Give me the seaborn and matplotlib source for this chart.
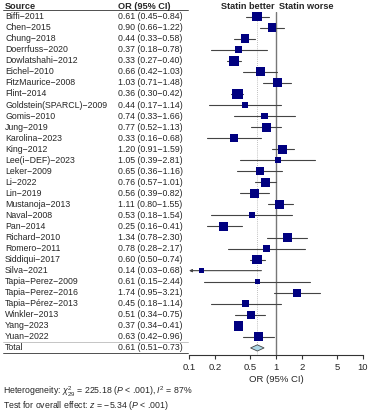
import numpy as np
import pandas as pd
import matplotlib
import matplotlib.pyplot as plt
import matplotlib.transforms as mtransforms
from matplotlib.lines import Line2D
from matplotlib.patches import Polygon
import seaborn as sns

# %%
# study data
sources = [
    "Biffi-2011", "Chen-2015", "Chung-2018", "Doerrfuss-2020", "Dowlatshahi-2012",
    "Eichel-2010", "FitzMaurice-2008", "Flint-2014", "Goldstein(SPARCL)-2009",
    "Gomis-2010", "Jung-2019", "Karolina-2023", "King-2012", "Lee(i-DEF)-2023",
    "Leker-2009", "Li-2022", "Lin-2019", "Mustanoja-2013", "Naval-2008", "Pan-2014",
    "Richard-2010", "Romero-2011", "Siddiqui-2017", "Silva-2021", "Tapia-Perez-2009",
    "Tapia-Perez-2016", "Tapia-Pérez-2013", "Winkler-2013", "Yang-2023", "Yuan-2022",
]
or_vals = [0.61, 0.90, 0.44, 0.37, 0.33, 0.66, 1.03, 0.36, 0.44, 0.74, 0.77, 0.33,
           1.20, 1.05, 0.65, 0.76, 0.56, 1.11, 0.53, 0.25, 1.34, 0.78, 0.60, 0.14,
           0.61, 1.74, 0.45, 0.51, 0.37, 0.63]
ci_low = [0.45, 0.66, 0.33, 0.18, 0.27, 0.42, 0.71, 0.30, 0.17, 0.33, 0.52, 0.16,
          0.91, 0.39, 0.36, 0.57, 0.39, 0.80, 0.18, 0.16, 0.78, 0.28, 0.50, 0.03,
          0.15, 0.95, 0.18, 0.34, 0.34, 0.42]
ci_high = [0.84, 1.22, 0.58, 0.78, 0.40, 1.03, 1.48, 0.42, 1.14, 1.66, 1.13, 0.68,
           1.59, 2.81, 1.16, 1.01, 0.82, 1.55, 1.54, 0.41, 2.30, 2.17, 0.74, 0.68,
           2.44, 3.21, 1.14, 0.75, 0.41, 0.96]
weights = [4.6, 3.9, 3.9, 2.7, 4.6, 3.9, 3.9, 5.2, 1.7, 2.2, 3.9, 2.7, 3.9, 1.7, 3.2,
           4.2, 3.9, 3.9, 1.7, 4.6, 3.9, 2.0, 4.6, 1.3, 1.3, 3.2, 2.2, 3.2, 4.6, 3.9]
total_or, total_low, total_high = 0.61, 0.51, 0.73
xticks = [0.1, 0.2, 0.5, 1, 2, 5, 10]
xticklabels = ["0.1", "0.2", "0.5", "1", "2", "5", "10"]

df = pd.DataFrame({"source": sources, "or": or_vals, "low": ci_low,
                   "high": ci_high, "weight": weights})
df["row"] = np.arange(len(df))

# %%
sns.set_style("white")
plt.rcParams["font.family"] = ["Liberation Sans", "DejaVu Sans"]
plt.rcParams["mathtext.fontset"] = "custom"
plt.rcParams["mathtext.rm"] = "Liberation Sans"
plt.rcParams["mathtext.it"] = "Liberation Sans:italic"

W, H = 370, 413
fig = plt.figure(figsize=(W / 100, H / 100), dpi=100)
ax = fig.add_axes([189 / W, 1 - 355 / H, 174 / W, (355 - 11.7) / H])

fs = 6.3
navy = "#000080"
xmin = 0.1

# CI lines (left arrow when CI goes past the axis)
for _, r in df.iterrows():
    if r["low"] < xmin:
        ax.annotate("", xy=(xmin, r["row"]), xytext=(r["high"], r["row"]),
                    arrowprops=dict(arrowstyle="-|>", color="#444444", lw=0.8,
                                    mutation_scale=4, shrinkA=0, shrinkB=0))
    else:
        ax.plot([r["low"], r["high"]], [r["row"], r["row"]], color="#444444", lw=0.8, zorder=1)

sns.scatterplot(data=df, x="or", y="row", size="weight",
                sizes=(10.5 * df["weight"].min(), 10.5 * df["weight"].max()),
                marker="s", color=navy, edgecolor=navy, linewidth=0,
                legend=False, ax=ax, zorder=3)

# pooled diamond
total_row = len(df)
h = 0.28
ax.add_patch(Polygon([[total_low, total_row], [total_or, total_row - h],
                      [total_high, total_row], [total_or, total_row + h]],
                     closed=True, facecolor="#add8e6", edgecolor="#444444", lw=0.6, zorder=3))

ax.axvline(1, color="#777777", lw=1.0, zorder=0)
ax.axvline(total_or, color="#aaaaaa", lw=0.6, ls=(0, (1, 1.5)), zorder=0)

ax.set_xscale("log")
ax.set_xlim(0.1, 10)
ax.set_ylim(30.64, -0.45)
ax.set_xticks(xticks)
ax.set_xticklabels(xticklabels, fontsize=fs + 0.5)
ax.minorticks_off()
ax.set_yticks([])
ax.set_xlabel("OR (95% CI)", fontsize=fs + 0.5, labelpad=2)
ax.set_ylabel("")
for s in ["left", "top", "right"]:
    ax.spines[s].set_visible(False)
ax.spines["bottom"].set_color("#333333")
ax.spines["bottom"].set_linewidth(0.8)
ax.tick_params(axis="x", direction="out", length=3, width=0.8, color="#333333", pad=3,
               bottom=True)

# %%
# table text
tr = mtransforms.blended_transform_factory(fig.transFigure, ax.transData)
x_src, x_or = 5 / W, 118 / W
head_row = -0.95
ax.text(x_src, head_row, "Source", transform=tr, fontsize=fs + 0.3, fontweight="bold",
        va="center", clip_on=False)
ax.text(x_or, head_row, "OR (95% CI)", transform=tr, fontsize=fs + 0.3, fontweight="bold",
        va="center", clip_on=False)
ax.text(0.97, head_row, "Statin better", fontsize=fs + 0.3, fontweight="bold", va="center",
        ha="right", clip_on=False)
ax.text(1.08, head_row, "Statin worse", fontsize=fs + 0.3, fontweight="bold", va="center",
        ha="left", clip_on=False)

labels = [f"{o:.2f} ({l:.2f}\u2212{u:.2f})" for o, l, u in zip(or_vals, ci_low, ci_high)]
for i, (s, lab) in enumerate(zip(sources, labels)):
    ax.text(x_src, i, s.replace("-", "\u2212"), transform=tr, fontsize=fs, va="center",
            clip_on=False)
    ax.text(x_or, i, lab, transform=tr, fontsize=fs, va="center", clip_on=False)
ax.text(x_src, total_row, "Total", transform=tr, fontsize=fs, va="center", clip_on=False)
ax.text(x_or, total_row, f"{total_or:.2f} ({total_low:.2f}\u2212{total_high:.2f})",
        transform=tr, fontsize=fs, va="center", clip_on=False)

# rules: under header, above and below total
for yl, col in [(-0.56, "#333333"), (29.5, "#bbbbbb"), (30.46, "#333333")]:
    ax.add_line(Line2D([3 / W, 188 / W], [yl, yl], transform=tr, color=col,
                       lw=0.6, clip_on=False))

# footnotes
fig.text(3 / W, 1 - 392 / H,
         r"Heterogeneity: $\chi^2_{29}$ = 225.18 ($P$ < .001), $I^2$ = 87%",
         fontsize=fs, va="center")
fig.text(3 / W, 1 - 405 / H,
         "Test for overall effect: $z$ = \u22125.34 ($P$ < .001)",
         fontsize=fs, va="center")

plt.savefig("out.png", dpi=100)
